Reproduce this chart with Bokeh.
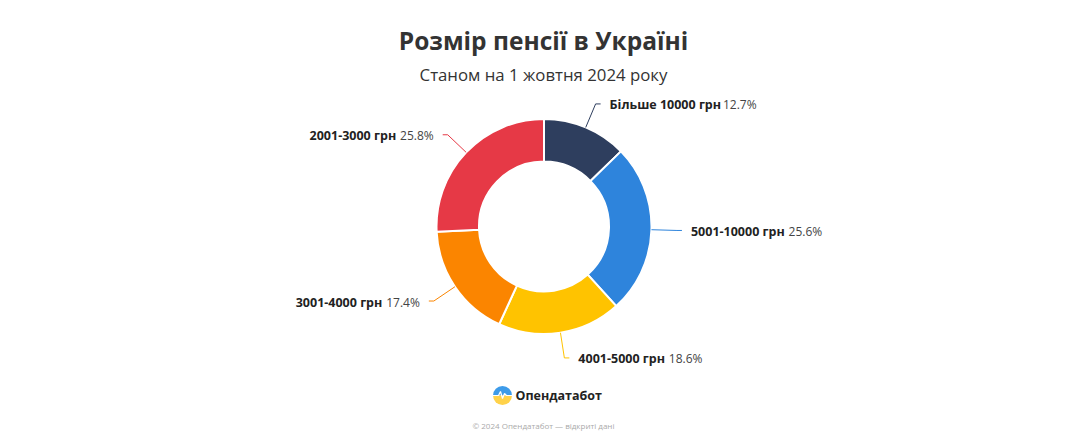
import numpy as np
from bokeh.plotting import figure
from bokeh.models import ColumnDataSource, Range1d
from bokeh.core.properties import value
from bokeh.embed import file_html
from bokeh.resources import INLINE

# ---- data ----
categories = ["Більше 10000 грн", "5001-10000 грн", "4001-5000 грн", "3001-4000 грн", "2001-3000 грн"]
shares = [12.7, 25.6, 18.6, 17.4, 25.8]
colors = ["#2e3e5e", "#2e84dc", "#ffc300", "#fb8500", "#e63946"]
title_text = "Розмір пенсії в Україні"
subtitle_text = "Станом на 1 жовтня 2024 року"
brand_text = "Опендатабот"
footer_text = "© 2024 Опендатабот — відкриті дані"

W, H = 1072, 440
FONT = "Open Sans"


def sy(Y):  # screen y -> data y
    return H - Y


def sx(X):  # screen x -> data x
    return X


p = figure(width=W, height=H, output_backend="svg", toolbar_location=None,
           x_axis_type=None, y_axis_type=None, min_border=0,
           x_range=Range1d(0, W), y_range=Range1d(0, H))
p.outline_line_color = None
p.grid.visible = False
p.background_fill_color = "white"
p.border_fill_color = "white"

cx, cy = sx(543.5), sy(226)
r_out, r_in, r_lab = 107.5, 65, 133

vals = np.array(shares, dtype=float)
frac = vals / vals.sum()
cum = np.concatenate([[0], np.cumsum(frac)])
start = np.pi / 2 - cum[:-1] * 2 * np.pi
end = np.pi / 2 - cum[1:] * 2 * np.pi
mid = (start + end) / 2

src = ColumnDataSource(dict(start=start, end=end, color=colors))
p.annular_wedge(x=cx, y=cy, inner_radius=r_in, outer_radius=r_out,
                start_angle="start", end_angle="end", direction="clock",
                fill_color="color", line_color="white", line_width=2, source=src)

# connectors and labels
xs, ys = [], []
bold_src = dict(x=[], y=[], t=[], align=[])
pct_src = dict(x=[], y=[], t=[], align=[])

CW = {" ": 0.26, "-": 0.322, ".": 0.28, "%": 0.84, "ш": 0.9, "і": 0.29, "І": 0.32,
      "Б": 0.64, "г": 0.48, "р": 0.63, "н": 0.65, "л": 0.62, "ь": 0.58, "е": 0.58}


def est_width(s, size):
    w = 0.0
    for ch in s:
        if ch.isdigit():
            w += 0.572
        else:
            w += CW.get(ch, 0.6)
    return w * size


FSB, FSP = 12.5, 12
for i, a in enumerate(mid):
    c, s = np.cos(a), np.sin(a)
    x1, y1 = cx + r_out * c, cy + r_out * s
    x2, y2 = cx + r_lab * c, cy + r_lab * s
    side = 1 if c >= 0 else -1
    x3 = x2 + 5 * side
    xs.append([x1, x2, x3])
    ys.append([y1, y2, y2])
    lab = categories[i]
    pct = f"{shares[i]:.1f}%"
    ty = y2 - 1
    if side > 0:
        tx = x3 + 9
        bold_src["x"].append(tx); bold_src["y"].append(ty); bold_src["t"].append(lab); bold_src["align"].append("left")
        pct_src["x"].append(tx + est_width(lab, FSB) + 4); pct_src["y"].append(ty); pct_src["t"].append(pct); pct_src["align"].append("left")
    else:
        tx = x3 - 9
        pct_src["x"].append(tx); pct_src["y"].append(ty); pct_src["t"].append(pct); pct_src["align"].append("right")
        bold_src["x"].append(tx - est_width(pct, FSP) - 3.5); bold_src["y"].append(ty); bold_src["t"].append(lab); bold_src["align"].append("right")

p.multi_line(xs=xs, ys=ys, line_color=colors, line_width=1)
p.text(x="x", y="y", text="t", text_align="align", source=ColumnDataSource(bold_src),
       text_font=value(FONT), text_font_style="bold", text_font_size=f"{FSB}px",
       text_color="#222222", text_baseline="middle")
p.text(x="x", y="y", text="t", text_align="align", source=ColumnDataSource(pct_src),
       text_font=value(FONT), text_font_size=f"{FSP}px",
       text_color="#444444", text_baseline="middle")

# title and subtitle
p.text(x=[sx(543)], y=[sy(40)], text=[title_text], text_align="center", text_baseline="alphabetic",
       text_font=value(FONT), text_font_style="bold", text_font_size="24.5px", text_color="#333333")
p.text(x=[sx(543)], y=[sy(74)], text=[subtitle_text], text_align="center", text_baseline="alphabetic",
       text_font=value(FONT), text_font_size="16.8px", text_color="#333333")

# brand logo
lx, ly = sx(502), sy(395)
p.wedge(x=lx, y=ly, radius=9.5, start_angle=0, end_angle=np.pi, fill_color="#3d9be9", line_color=None)
p.wedge(x=lx, y=ly, radius=9.5, start_angle=np.pi, end_angle=2 * np.pi, fill_color="#ffd24a", line_color=None)
p.line(x=[lx - 9.5, lx - 4, lx - 2, lx, lx + 2, lx + 4, lx + 9.5],
       y=[ly, ly, ly + 4, ly - 3, ly + 2, ly, ly], line_color="white", line_width=1.2)
p.text(x=[sx(515)], y=[sy(395)], text=[brand_text], text_align="left", text_baseline="middle",
       text_font=value(FONT), text_font_style="bold", text_font_size="12.5px", text_color="#222222")
p.text(x=[sx(543)], y=[sy(425)], text=[footer_text], text_align="center", text_baseline="middle",
       text_font=value(FONT), text_font_size="8px", text_color="#aaaaaa")

open("out.html", "w").write(file_html(p, INLINE))
